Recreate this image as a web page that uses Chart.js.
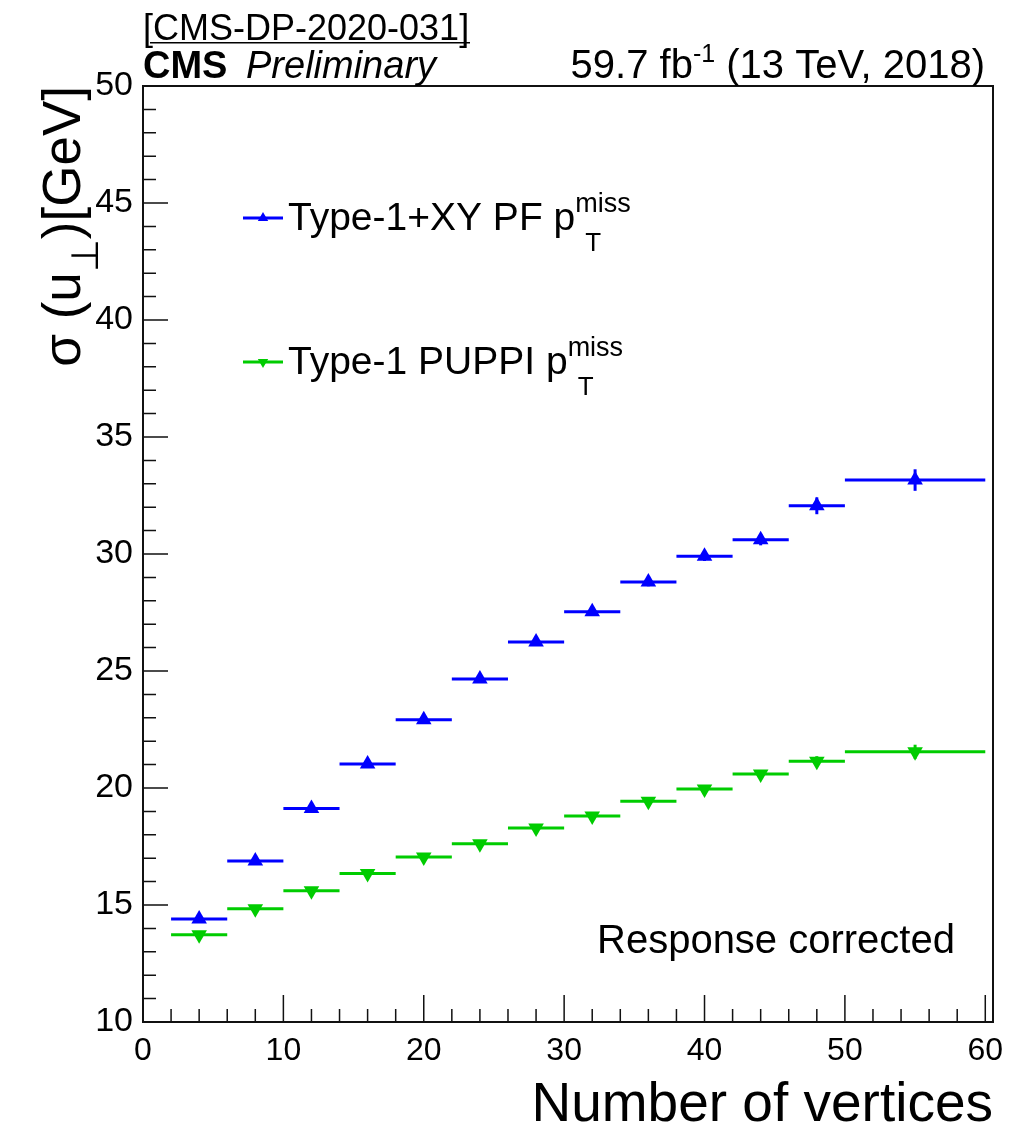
<!DOCTYPE html>
<html>
<head>
<meta charset="utf-8">
<script src="https://cdn.jsdelivr.net/npm/chart.js@4.4.1/dist/chart.umd.min.js"></script>
<style>
  html, body { margin: 0; padding: 0; background: #fff; }
  canvas { display: block; }
</style>
</head>
<body>
<canvas id="resolutionChart" width="1033" height="1129"></canvas>
<script>
// bins in number of vertices
var binLow     = [2, 6, 10, 14, 18, 22, 26, 30, 34, 38, 42, 46, 50];
var binHigh    = [6, 10, 14, 18, 22, 26, 30, 34, 38, 42, 46, 50, 60];
var binCentres = [4, 8, 12, 16, 20, 24, 28, 32, 36, 40, 44, 48, 55];

// sigma(u_perp) in GeV
var pfValues    = [14.40, 16.88, 19.12, 21.03, 22.92, 24.66, 26.24, 27.53, 28.80, 29.90, 30.61, 32.06, 33.16];
var pfErrors    = [0.08, 0.08, 0.09, 0.10, 0.11, 0.12, 0.13, 0.15, 0.18, 0.20, 0.24, 0.36, 0.46];
var puppiValues = [13.73, 14.84, 15.61, 16.35, 17.05, 17.62, 18.29, 18.80, 19.43, 19.96, 20.60, 21.14, 21.55];
var puppiErrors = [0.06, 0.06, 0.07, 0.07, 0.08, 0.09, 0.10, 0.11, 0.12, 0.14, 0.16, 0.22, 0.30];

var xTicks = [0, 10, 20, 30, 40, 50, 60];
var yTicks = [10, 15, 20, 25, 30, 35, 40, 45, 50];

var FONT = "'Liberation Sans', Arial, Helvetica, sans-serif";
var BLUE = '#0000ff';
var GREEN = '#00cc00';

function toPoints(vals) {
    return binCentres.map(function (x, i) { return { x: x, y: vals[i] }; });
}

// draws a row of text pieces (for super/subscripts)
function drawRich(ctx, parts, x, y, align) {
    var widths = parts.map(function (p) {
        ctx.font = p.f;
        return p.noAdvance ? 0 : ctx.measureText(p.t).width;
    });
    var total = widths.reduce(function (a, b) { return a + b; }, 0);
    var cx = align === 'right' ? x - total : x;
    parts.forEach(function (p, i) {
        ctx.font = p.f;
        ctx.fillText(p.t, cx + (p.dx || 0), y + (p.dy || 0));
        cx += widths[i];
    });
    return total;
}

var binBars = {
    id: 'binBars',
    beforeDatasetsDraw: function (chart) {
        var ctx = chart.ctx, xs = chart.scales.x, ys = chart.scales.y;
        ctx.save();
        chart.data.datasets.forEach(function (ds) {
            ctx.strokeStyle = ds.borderColor;
            ctx.lineWidth = 3;
            ds.data.forEach(function (p, i) {
                var y = ys.getPixelForValue(p.y);
                ctx.beginPath();
                ctx.moveTo(xs.getPixelForValue(binLow[i]), y);
                ctx.lineTo(xs.getPixelForValue(binHigh[i]), y);
                ctx.stroke();
                var xc = xs.getPixelForValue(p.x);
                ctx.beginPath();
                ctx.moveTo(xc, ys.getPixelForValue(p.y - ds.errors[i]));
                ctx.lineTo(xc, ys.getPixelForValue(p.y + ds.errors[i]));
                ctx.stroke();
            });
        });
        ctx.restore();
    }
};

var frameAndText = {
    id: 'frameAndText',
    afterDraw: function (chart) {
        var ctx = chart.ctx, a = chart.chartArea;
        var xs = chart.scales.x, ys = chart.scales.y;
        ctx.save();
        // frame
        ctx.strokeStyle = '#111';
        ctx.lineWidth = 2;
        ctx.strokeRect(a.left, a.top, a.right - a.left, a.bottom - a.top);

        // inward ticks
        ctx.lineWidth = 1.5;
        ctx.beginPath();
        for (var v = 0; v <= 60; v += 2) {
            var px = xs.getPixelForValue(v);
            var len = (v % 10 === 0) ? 27 : 13;
            ctx.moveTo(px, a.bottom);
            ctx.lineTo(px, a.bottom - len);
        }
        for (var w = 10; w <= 50; w += 1) {
            var py = ys.getPixelForValue(w);
            var l2 = (w % 5 === 0) ? 25 : 13;
            ctx.moveTo(a.left, py);
            ctx.lineTo(a.left + l2, py);
        }
        ctx.stroke();

        ctx.fillStyle = '#000';
        ctx.textBaseline = 'alphabetic';

        // header
        ctx.textAlign = 'left';
        ctx.font = '36px ' + FONT;
        ctx.fillText('[CMS-DP-2020-031]', 143, 40, 337);
        ctx.fillRect(150, 42, 320, 1.5);

        ctx.font = 'bold 38px ' + FONT;
        ctx.fillText('CMS', 143, 78);
        ctx.font = 'italic 38px ' + FONT;
        ctx.fillText('Preliminary', 246, 78, 200);

        drawRich(ctx, [
            { t: '59.7 fb', f: '40px ' + FONT },
            { t: '-1', f: '25px ' + FONT, dy: -16 },
            { t: ' (13 TeV, 2018)', f: '40px ' + FONT }
        ], 985, 78, 'right');

        // legend
        var legend = [
            { y: 218, base: 230, color: BLUE, rot: 0, label: 'Type-1+XY PF p' },
            { y: 362, base: 374, color: GREEN, rot: 180, label: 'Type-1 PUPPI p' }
        ];
        legend.forEach(function (e) {
            ctx.strokeStyle = e.color;
            ctx.lineWidth = 3;
            ctx.beginPath();
            ctx.moveTo(243, e.y);
            ctx.lineTo(283, e.y);
            ctx.stroke();
            ctx.fillStyle = e.color;
            Chart.helpers.drawPoint(ctx, { pointStyle: 'triangle', radius: 6, rotation: e.rot, borderWidth: 0 }, 263, e.y);
            ctx.fillStyle = '#000';
            drawRich(ctx, [
                { t: e.label, f: '39px ' + FONT },
                { t: 'miss', f: '27px ' + FONT, dy: -18, noAdvance: true },
                { t: 'T', f: '26px ' + FONT, dy: 21, dx: 10 }
            ], 288, e.base, 'left');
        });

        // annotation
        ctx.font = '40px ' + FONT;
        ctx.fillText('Response corrected', 597, 953);

        // x title
        ctx.textAlign = 'right';
        ctx.font = '55px ' + FONT;
        ctx.fillText('Number of vertices', 993, 1121);

        // y title, rotated
        ctx.save();
        ctx.translate(80, 86);
        ctx.rotate(-Math.PI / 2);
        ctx.textAlign = 'left';
        var parts = [
            { t: '\u03c3 (u', f: '53px ' + FONT },
            { t: '\u22a5', f: '38px ' + FONT, dy: 18 },
            { t: ')[GeV]', f: '53px ' + FONT }
        ];
        var total = 0;
        parts.forEach(function (p) { ctx.font = p.f; total += ctx.measureText(p.t).width; });
        drawRich(ctx, parts, -total, 0, 'left');
        ctx.restore();

        ctx.restore();
    }
};

var ctx = document.getElementById('resolutionChart').getContext('2d');
new Chart(ctx, {
    type: 'scatter',
    data: {
        datasets: [{
            label: 'Type-1+XY PF pTmiss',
            data: toPoints(pfValues),
            errors: pfErrors,
            backgroundColor: BLUE,
            borderColor: BLUE,
            pointStyle: 'triangle',
            pointRadius: 9,
            pointBorderWidth: 0,
            rotation: 0
        }, {
            label: 'Type-1 PUPPI pTmiss',
            data: toPoints(puppiValues),
            errors: puppiErrors,
            backgroundColor: GREEN,
            borderColor: GREEN,
            pointStyle: 'triangle',
            pointRadius: 9,
            pointBorderWidth: 0,
            rotation: 180
        }]
    },
    options: {
        responsive: false,
        animation: false,
        layout: { padding: { left: 0, top: 86, right: 40, bottom: 0 } },
        plugins: {
            legend: { display: false },
            tooltip: { enabled: false }
        },
        scales: {
            x: {
                type: 'linear',
                min: 0,
                max: 60.55,
                grid: { display: false, drawTicks: false },
                border: { display: false },
                ticks: {
                    padding: 10,
                    color: '#000',
                    font: { family: FONT, size: 32 },
                    maxRotation: 0,
                    autoSkip: false
                },
                afterBuildTicks: function (s) {
                    s.ticks = xTicks.map(function (v) { return { value: v }; });
                },
                afterFit: function (s) { s.height = 107; }
            },
            y: {
                type: 'linear',
                min: 10,
                max: 50,
                grid: { display: false, drawTicks: false },
                border: { display: false },
                ticks: {
                    padding: 10,
                    color: '#000',
                    font: { family: FONT, size: 34 },
                    autoSkip: false
                },
                afterBuildTicks: function (s) {
                    s.ticks = yTicks.map(function (v) { return { value: v }; });
                },
                afterFit: function (s) { s.width = 143; }
            }
        }
    },
    plugins: [binBars, frameAndText]
});
</script>
</body>
</html>
